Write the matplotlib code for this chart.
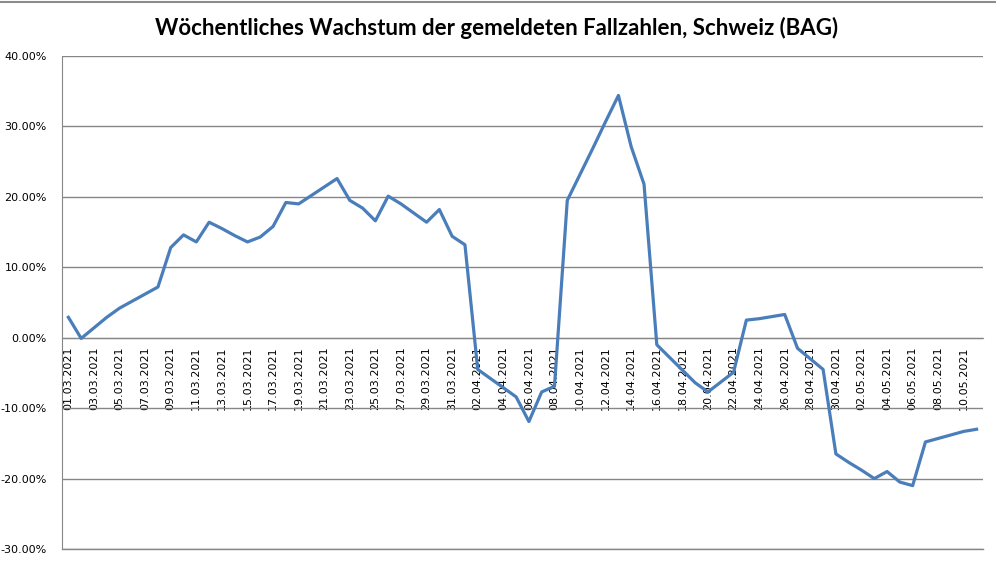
import numpy as np
import pandas as pd
from matplotlib import pyplot as plt
from matplotlib.ticker import FuncFormatter

# Tagesdaten 01.03.2021 - 11.05.2021
dates = pd.date_range("2021-03-01", "2021-05-11", freq="D")
date_labels = [d.strftime("%d.%m.%Y") for d in dates]

# woechentliches Wachstum in Prozent
growth = [
    2.9, -0.1, 1.4, 2.9, 4.2, 5.2, 6.2, 7.2, 12.8, 14.6,
    13.6, 16.4, 15.5, 14.5, 13.6, 14.3, 15.8, 19.2, 19.0, 20.2,
    21.4, 22.6, 19.5, 18.4, 16.6, 20.1, 19.0, 17.7, 16.4, 18.2,
    14.4, 13.2, -4.5, -5.8, -7.1, -8.4, -11.9, -7.7, -6.9, 19.5,
    23.2, 26.9, 30.7, 34.4, 27.1, 21.8, -1.0, -2.8, -4.6, -6.4,
    -7.7, -6.3, -4.9, 2.5, 2.7, 3.0, 3.3, -1.5, -3.0, -4.5,
    -16.5, -17.7, -18.8, -20.0, -19.0, -20.5, -21.0, -14.8, -14.3, -13.8,
    -13.3, -13.0,
]

title = "Wöchentliches Wachstum der gemeldeten Fallzahlen, Schweiz (BAG)"

fig = plt.figure(figsize=(9.96, 5.65), dpi=100)
ax = fig.add_axes([62 / 996, 1 - 549 / 565, (983 - 62) / 996, (549 - 56) / 565])

# Achse bei 0 (zuerst, weil set_position die Ticks zuruecksetzt)
ax.spines["bottom"].set_position(("data", 0))
ax.spines["bottom"].set_color("#868686")
ax.spines["left"].set_color("#868686")
ax.spines["top"].set_visible(False)
ax.spines["right"].set_visible(False)

x = np.arange(len(growth))
ax.plot(x, growth, color="#4a7ebb", linewidth=2.3, zorder=3)

ax.set_xlim(-0.5, len(growth) - 0.5)
ax.set_ylim(-30, 40)
ax.set_yticks(np.arange(-30, 41, 10))
ax.yaxis.set_major_formatter(FuncFormatter(lambda v, p: f"{v:.2f}%"))
ax.yaxis.grid(True, color="#868686", linewidth=1)
ax.axhline(-30, color="#868686", linewidth=1, clip_on=False)
ax.set_axisbelow(True)

ax.set_xticks(x[::2])
ax.set_xticklabels(date_labels[::2])
ax.tick_params(axis="both", length=0, labelsize=8, colors="black")
ax.tick_params(axis="x", labelrotation=90, pad=6)
ax.tick_params(axis="y", pad=11)
for lbl in ax.get_xticklabels():
    lbl.set_va("top")

fig.text(497 / 996, 1 - 28 / 565, title, ha="center", va="center",
         fontsize=16, fontweight="bold", family="Lato")

# Rand der Tabelle oben
fig.add_artist(plt.Line2D([0, 1], [1 - 1.5 / 565] * 2, color="#8c8c8c", linewidth=1.5))

plt.savefig("out.png", dpi=100)
